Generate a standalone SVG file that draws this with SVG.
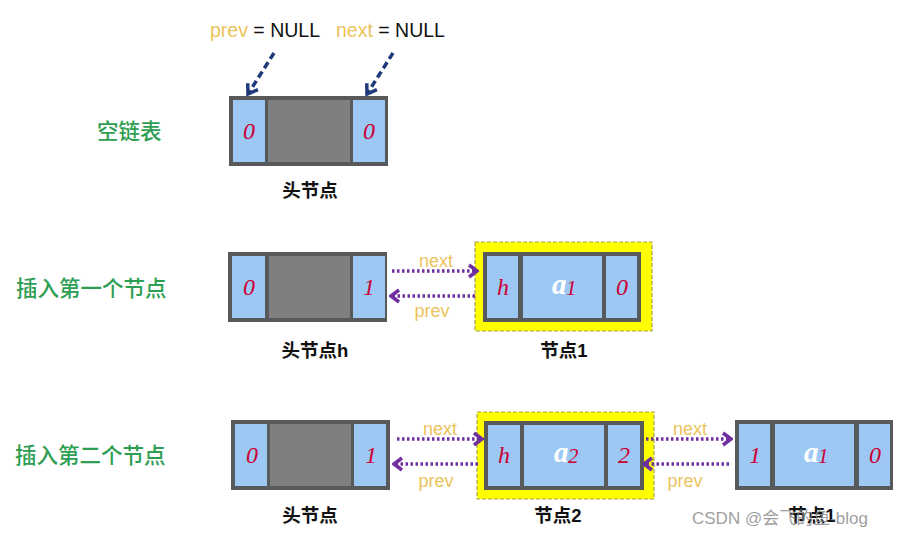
<svg xmlns="http://www.w3.org/2000/svg" width="901" height="538" viewBox="0 0 901 538">
<style>
.frame{fill:#58595b}
.cell{fill:#9dc8f4}
.mid{fill:#7f7f7f}
.hl{fill:#ffff00;stroke:#a6a05a;stroke-width:1.2;stroke-dasharray:4 2}
.num{font-family:"Liberation Serif",serif;font-style:italic;font-size:24px;fill:#cc0033;text-anchor:middle}
.aa{font-family:"Liberation Serif",serif;font-style:italic;font-weight:bold;font-size:29px;fill:#ffffff}
.sub{font-family:"Liberation Serif",serif;font-style:italic;font-size:21px;fill:#cc0033}
.green{font-family:"Noto Sans CJK SC",sans-serif;font-size:21.5px;font-weight:500;fill:#2e9e52}
.cap{font-family:"Liberation Sans","Noto Sans CJK SC",sans-serif;font-size:18.5px;font-weight:bold;fill:#111;text-anchor:middle}
.lbl{font-family:"Liberation Sans",sans-serif;font-size:18px;fill:#ecc35a;text-anchor:middle}
.top{font-family:"Liberation Sans",sans-serif;font-size:19.5px;fill:#111}
.dot{stroke:#7030a0;stroke-width:3.5;stroke-dasharray:2.5 2.5;fill:none}
.dash{stroke:#1f3a7a;stroke-width:3.5;stroke-dasharray:7 4;fill:none}
.wm{font-family:"Liberation Sans","Noto Sans CJK SC",sans-serif;font-size:17px;fill:#8c8c8c;fill-opacity:0.85}
</style>
<defs>
<marker id="pa" viewBox="0 0 12 16" refX="10" refY="8" markerWidth="12" markerHeight="16" markerUnits="userSpaceOnUse" orient="auto">
<path d="M2,2 L10,8 L2,14" fill="none" stroke="#7030a0" stroke-width="3.5" stroke-linejoin="miter"/>
</marker>
<marker id="na" viewBox="0 0 14 16" refX="11" refY="8" markerWidth="14" markerHeight="16" markerUnits="userSpaceOnUse" orient="auto">
<path d="M2,2 L11,8 L2,14" fill="none" stroke="#1f3a7a" stroke-width="3.5"/>
</marker>
</defs>
<rect width="901" height="538" fill="#ffffff"/>

<!-- section labels -->
<text class="green" x="97" y="139">空链表</text>
<text class="green" x="16" y="296">插入第一个节点</text>
<text class="green" x="15" y="463">插入第二个节点</text>

<!-- top labels -->
<text class="top" x="210" y="37"><tspan fill="#ecc35a">prev</tspan> = NULL</text>
<text class="top" x="336" y="37"><tspan fill="#ecc35a">next</tspan> = NULL</text>

<!-- Row 1: empty list head -->
<g id="head0">
<rect class="frame" x="229" y="96" width="159" height="70"/>
<rect class="cell" x="233" y="100" width="32" height="62"/>
<rect class="mid" x="268" y="100" width="82" height="62"/>
<rect class="cell" x="353" y="100" width="32" height="62"/>
<text class="num" x="249" y="139">0</text>
<text class="num" x="369" y="139">0</text>
<text class="cap" x="310" y="197">头节点</text>
</g>

<!-- Row 2 -->
<g id="head1">
<rect class="frame" x="228" y="252" width="159" height="70"/>
<rect class="cell" x="232" y="256" width="33" height="62"/>
<rect class="mid" x="269" y="256" width="81" height="62"/>
<rect class="cell" x="353" y="256" width="32" height="62"/>
<text class="num" x="249" y="295">0</text>
<text class="num" x="369" y="295">1</text>
<text class="cap" x="315" y="357">头节点h</text>
</g>
<g id="node1a">
<rect class="hl" x="475" y="242" width="177" height="89"/>
<rect class="frame" x="483" y="252" width="158" height="70"/>
<rect class="cell" x="487" y="256" width="31" height="62"/>
<rect class="cell" x="523" y="256" width="79" height="62"/>
<rect class="cell" x="606" y="256" width="31" height="62"/>
<text class="num" x="503" y="295">h</text>
<text class="aa" x="552" y="294">a</text><text class="sub" x="566" y="295">1</text>
<text class="num" x="622" y="295">0</text>
<text class="cap" x="564" y="357">节点1</text>
</g>

<!-- Row 3 -->
<g id="head2">
<rect class="frame" x="231" y="420" width="159" height="70"/>
<rect class="cell" x="235" y="424" width="32" height="62"/>
<rect class="mid" x="270" y="424" width="81" height="62"/>
<rect class="cell" x="354" y="424" width="32" height="62"/>
<text class="num" x="252" y="463">0</text>
<text class="num" x="371" y="463">1</text>
<text class="cap" x="310" y="522">头节点</text>
</g>
<g id="node2">
<rect class="hl" x="477" y="412" width="177" height="87"/>
<rect class="frame" x="484" y="421" width="160" height="69"/>
<rect class="cell" x="488" y="425" width="32" height="61"/>
<rect class="cell" x="524" y="425" width="80" height="61"/>
<rect class="cell" x="608" y="425" width="32" height="61"/>
<text class="num" x="504" y="463">h</text>
<text class="aa" x="554" y="462">a</text><text class="sub" x="568" y="463">2</text>
<text class="num" x="624" y="463">2</text>
<text class="cap" x="558" y="522">节点2</text>
</g>
<g id="node1b">
<rect class="frame" x="735" y="420" width="158" height="70"/>
<rect class="cell" x="739" y="424" width="31" height="62"/>
<rect class="cell" x="775" y="424" width="79" height="62"/>
<rect class="cell" x="859" y="424" width="31" height="62"/>
<text class="num" x="755" y="463">1</text>
<text class="aa" x="804" y="462">a</text><text class="sub" x="818" y="463">1</text>
<text class="num" x="875" y="463">0</text>
<text class="cap" x="812" y="522">节点1</text>
</g>

<!-- connectors -->
<g id="connectors">
<line class="dash" x1="274" y1="53" x2="248" y2="94" marker-end="url(#na)"/>
<line class="dash" x1="393" y1="53" x2="367" y2="94" marker-end="url(#na)"/>

<line class="dot" x1="392" y1="271" x2="477" y2="271" marker-end="url(#pa)"/>
<line class="dot" x1="475" y1="296" x2="391" y2="296" marker-end="url(#pa)"/>

<line class="dot" x1="397" y1="439" x2="482" y2="439" marker-end="url(#pa)"/>
<line class="dot" x1="478" y1="464" x2="394" y2="464" marker-end="url(#pa)"/>

<line class="dot" x1="646" y1="439" x2="731" y2="439" marker-end="url(#pa)"/>
<line class="dot" x1="729" y1="464" x2="644" y2="464" marker-end="url(#pa)"/>
</g>

<!-- connector labels -->
<text class="lbl" x="436" y="267">next</text>
<text class="lbl" x="432" y="317">prev</text>
<text class="lbl" x="440" y="435">next</text>
<text class="lbl" x="436" y="487">prev</text>
<text class="lbl" x="690" y="435">next</text>
<text class="lbl" x="685" y="487">prev</text>

<text class="wm" x="692" y="524">CSDN @会飞的鱼-blog</text>
</svg>
